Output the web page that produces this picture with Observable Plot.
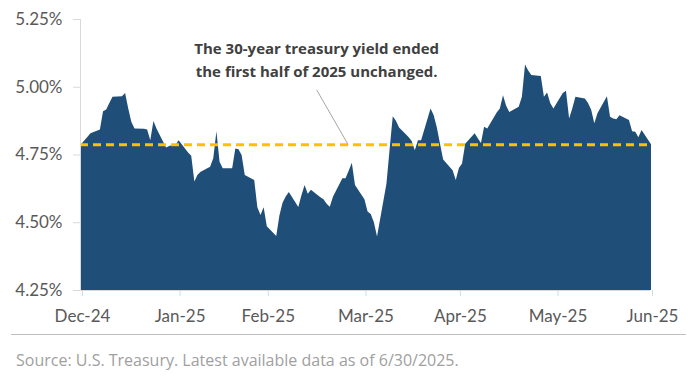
<!DOCTYPE html>
<html>
<head>
<meta charset="utf-8">
<script src="https://cdn.jsdelivr.net/npm/d3@7"></script>
<script src="https://cdn.jsdelivr.net/npm/@observablehq/plot@0.6"></script>
<style>
  html, body { margin: 0; padding: 0; background: #fff; }
  #wrap { width: 700px; height: 379px; position: relative; font-family: Lato, "Open Sans", sans-serif; }
  #chart svg { display: block; }
  #chart g[aria-label="y-axis tick"], #chart g[aria-label="x-axis tick"] { stroke: #d9d9d9; }
  #chart g[aria-label="y-axis tick label"], #chart g[aria-label="x-axis tick label"] { fill: #595959; }
  #caption {
    margin-left: 11px; width: 675px; border-top: 1px solid #bfbfbf;
    padding-top: 16px; padding-left: 5px; box-sizing: border-box;
    font-family: "Open Sans", sans-serif;
    font-size: 16px; line-height: 18px; color: #a0a0a0;
  }
</style>
</head>
<body>
<div id="wrap">
  <div id="chart"></div>
  <div id="caption">Source: U.S. Treasury. Latest available data as of 6/30/2025.</div>
</div>
<script>
// 30-year Treasury yield (%), daily
const dates = [
  "2024-12-31","2025-01-02","2025-01-03","2025-01-06","2025-01-07","2025-01-08","2025-01-09","2025-01-10",
  "2025-01-13","2025-01-14","2025-01-15","2025-01-16","2025-01-17","2025-01-20","2025-01-21","2025-01-22",
  "2025-01-23","2025-01-24","2025-01-27","2025-01-28","2025-01-29","2025-01-30","2025-01-31",
  "2025-02-03","2025-02-04","2025-02-05","2025-02-06","2025-02-07","2025-02-10","2025-02-11","2025-02-12",
  "2025-02-13","2025-02-14","2025-02-17","2025-02-18","2025-02-19","2025-02-20","2025-02-21","2025-02-24",
  "2025-02-25","2025-02-26","2025-02-27","2025-02-28",
  "2025-03-03","2025-03-04","2025-03-05","2025-03-06","2025-03-07","2025-03-10","2025-03-11","2025-03-12",
  "2025-03-13","2025-03-14","2025-03-17","2025-03-18","2025-03-19","2025-03-20","2025-03-21","2025-03-24",
  "2025-03-25","2025-03-26","2025-03-27","2025-03-28","2025-03-31",
  "2025-04-01","2025-04-02","2025-04-03","2025-04-04","2025-04-07","2025-04-08","2025-04-09","2025-04-10",
  "2025-04-11","2025-04-14","2025-04-15","2025-04-16","2025-04-17","2025-04-18","2025-04-21","2025-04-22",
  "2025-04-23","2025-04-24","2025-04-25","2025-04-28","2025-04-29","2025-04-30",
  "2025-05-01","2025-05-02","2025-05-05","2025-05-06","2025-05-07","2025-05-08","2025-05-09","2025-05-12",
  "2025-05-13","2025-05-14","2025-05-15","2025-05-16","2025-05-19","2025-05-20","2025-05-21","2025-05-22",
  "2025-05-23","2025-05-26","2025-05-27","2025-05-28","2025-05-29","2025-05-30",
  "2025-06-02","2025-06-03","2025-06-04","2025-06-05","2025-06-06","2025-06-09","2025-06-10","2025-06-11",
  "2025-06-12","2025-06-13","2025-06-16","2025-06-17","2025-06-18","2025-06-19","2025-06-20","2025-06-23",
  "2025-06-24","2025-06-25","2025-06-26","2025-06-27","2025-06-30"
];
const yields = [
  4.788,4.815,4.828,4.842,4.910,4.916,4.940,4.963,
  4.965,4.977,4.920,4.870,4.846,4.845,4.842,4.803,
  4.874,4.845,4.776,4.781,4.785,4.785,4.803,
  4.757,4.745,4.650,4.675,4.686,4.705,4.736,4.836,
  4.723,4.699,4.699,4.772,4.769,4.748,4.674,4.656,
  4.555,4.527,4.555,4.485,
  4.449,4.525,4.572,4.595,4.612,4.556,4.600,4.637,
  4.605,4.620,4.592,4.585,4.568,4.557,4.594,4.662,
  4.662,4.690,4.720,4.637,4.585,
  4.540,4.530,4.500,4.447,4.643,4.770,4.891,4.875,
  4.850,4.815,4.800,4.766,4.803,4.803,4.920,4.895,
  4.850,4.790,4.732,4.692,4.656,4.700,
  4.717,4.790,4.828,4.810,4.792,4.852,4.846,4.905,
  4.920,4.969,4.930,4.907,4.926,4.963,5.082,5.060,
  5.043,5.040,4.963,4.979,4.940,4.920,
  4.977,4.985,4.883,4.920,4.963,4.957,4.940,4.915,
  4.865,4.902,4.965,4.889,4.883,4.880,4.895,4.877,
  4.836,4.834,4.814,4.840,4.788
];

// Axis ticks and labels
const yTicks = [4.25, 4.50, 4.75, 5.00, 5.25];
const yTickLabels = ["4.25%", "4.50%", "4.75%", "5.00%", "5.25%"];
const xTickDates = ["2024-12-31","2025-01-31","2025-02-28","2025-03-31","2025-04-30","2025-05-31","2025-06-30"];
const xTickLabels = ["Dec-24","Jan-25","Feb-25","Mar-25","Apr-25","May-25","Jun-25"];

// Reference level (yield at the start of the year) and annotation
const startYield = yields[0];
const annotationText = "The 30-year treasury yield ended\nthe first half of 2025 unchanged.";
const annotationDate = "2025-03-16";
const annotationYield = 5.106;
const leaderFrom = { date: "2025-03-16", yield: 4.99 };
const leaderTo = { date: "2025-03-26", yield: startYield };

const parse = d3.utcParse("%Y-%m-%d");
const rows = dates.map((d, i) => ({ date: parse(d), value: yields[i] }));
const xTicks = xTickDates.map(parse);
const yMin = yTicks[0], yMax = yTicks[yTicks.length - 1];

const chart = Plot.plot({
  width: 700,
  height: 334,
  marginLeft: 80,
  marginRight: 50,
  marginTop: 19,
  marginBottom: 44,
  style: { fontFamily: "Lato, 'Open Sans', sans-serif", background: "#fff" },
  x: { type: "utc", domain: [xTicks[0], xTicks[xTicks.length - 1]] },
  y: { domain: [yMin, yMax] },
  marks: [
    Plot.areaY(rows, { x: "date", y1: yMin, y2: "value", fill: "#1f4e79", dx: 1 }),
    Plot.ruleY([startYield], { stroke: "#ffc000", strokeWidth: 3, strokeDasharray: "8,5" }),
    Plot.link([leaderFrom], {
      x1: () => parse(leaderFrom.date), y1: () => leaderFrom.yield,
      x2: () => parse(leaderTo.date), y2: () => leaderTo.yield,
      stroke: "#a6a6a6", strokeWidth: 1
    }),
    Plot.text([annotationText], {
      x: () => parse(annotationDate), y: () => annotationYield, text: d => d,
      fontFamily: "'Open Sans', sans-serif",
      fontWeight: "bold", fontSize: 15, fill: "#404040", lineHeight: 1.5
    }),
    Plot.ruleX([xTicks[0]], { stroke: "#d9d9d9" }),
    Plot.ruleY([yMin], { stroke: "#d9d9d9" }),
    Plot.axisY({
      ticks: yTicks, tickFormat: d => yTickLabels[yTicks.indexOf(d)],
      tickSize: 7, tickPadding: 11, fontSize: 17, stroke: "#d9d9d9", fill: "#595959", label: null
    }),
    Plot.axisX({
      ticks: xTicks, tickFormat: d => xTickLabels[xTicks.findIndex(t => +t === +d)],
      tickSize: 6, tickPadding: 13, fontSize: 17, dx: 2, stroke: "#d9d9d9", fill: "#595959", label: null
    })
  ]
});
document.getElementById("chart").appendChild(chart);
</script>
</body>
</html>
